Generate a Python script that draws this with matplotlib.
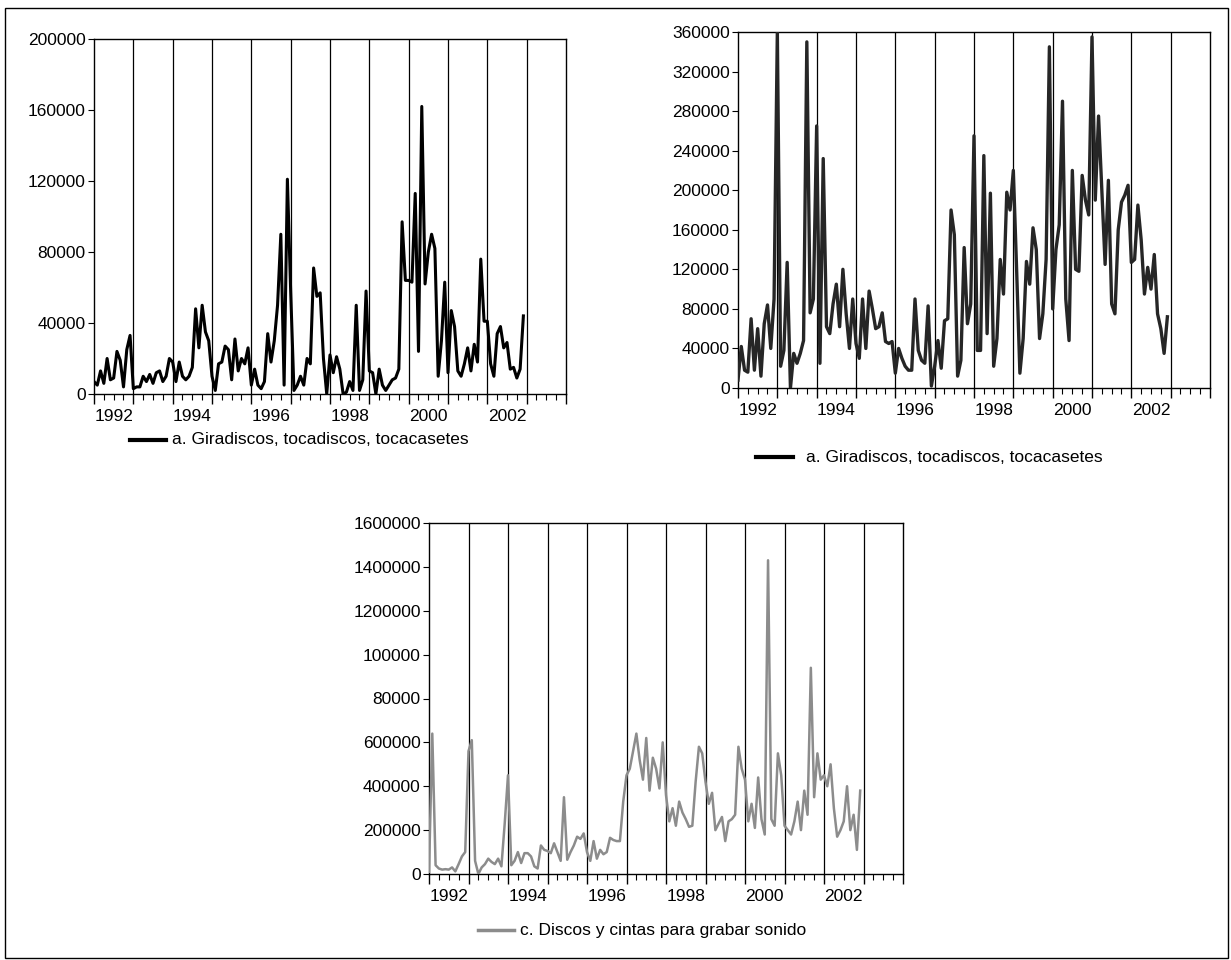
import numpy as np
import matplotlib
matplotlib.use("Agg")
import matplotlib.pyplot as plt
from matplotlib.patches import Rectangle
from matplotlib.ticker import FixedLocator, NullFormatter

plt.rcParams['font.family'] = ['Liberation Sans', 'DejaVu Sans']

# monthly data 1992:01 - 2002:12 (thousands of units)
giradiscos_1 = [
    7, 5, 13, 6, 20, 8, 9, 24, 19, 4, 25, 33,
    3, 4, 4, 10, 7, 11, 6, 12, 13, 7, 10, 20,
    18, 7, 18, 10, 8, 10, 15, 48, 26, 50, 35, 30,
    10, 2, 17, 18, 27, 25, 8, 31, 13, 20, 17, 26,
    5, 14, 5, 3, 7, 34, 18, 30, 50, 90, 5, 121,
    58, 2, 5, 10, 5, 20, 17, 71, 55, 57, 20, 0,
    22, 12, 21, 14, 0, 1, 7, 2, 50, 2, 8, 58,
    13, 12, 0, 14, 5, 2, 5, 8, 9, 14, 97, 64,
    64, 63, 113, 24, 162, 62, 80, 90, 82, 10, 30, 63,
    12, 47, 38, 13, 10, 17, 26, 13, 28, 18, 76, 41,
    41, 17, 10, 34, 38, 26, 29, 14, 15, 9, 14, 44,
]

giradiscos_2 = [
    8, 42, 18, 16, 70, 18, 60, 12, 65, 84, 40, 90,
    360, 22, 38, 127, 0, 35, 25, 35, 48, 350, 76, 90,
    265, 25, 232, 62, 55, 85, 105, 62, 120, 75, 40, 90,
    45, 30, 90, 40, 98, 80, 60, 62, 76, 47, 45, 47,
    15, 40, 30, 22, 18, 18, 90, 38, 28, 25, 83, 2,
    22, 48, 20, 68, 70, 180, 155, 12, 28, 142, 65, 85,
    255, 38, 38, 235, 55, 197, 22, 50, 130, 95, 198, 180,
    220, 120, 15, 50, 128, 105, 162, 140, 50, 75, 130, 345,
    80, 140, 165, 290, 90, 48, 220, 120, 118, 215, 190, 175,
    355, 190, 275, 200, 125, 210, 85, 75, 160, 188, 195, 205,
    127, 130, 185, 150, 95, 122, 100, 135, 75, 60, 35, 72,
]

discos = [
    10, 640, 40, 25, 20, 22, 20, 30, 12, 45, 80, 100,
    560, 610, 60, 0, 30, 45, 70, 55, 45, 70, 35, 230,
    450, 40, 60, 100, 50, 95, 95, 80, 35, 25, 130, 110,
    105, 95, 140, 100, 60, 350, 65, 100, 130, 170, 160, 185,
    100, 60, 150, 70, 110, 90, 100, 165, 155, 150, 150, 330,
    450, 480, 560, 640, 520, 430, 620, 380, 530, 480, 390, 600,
    360, 240, 300, 220, 330, 280, 250, 215, 220, 420, 580, 550,
    420, 320, 370, 200, 230, 260, 150, 240, 250, 270, 580, 480,
    430, 240, 320, 210, 440, 250, 180, 1430, 250, 220, 550, 450,
    220, 200, 180, 240, 330, 200, 380, 270, 940, 350, 550, 430,
    450, 400, 500, 300, 170, 200, 240, 400, 200, 270, 110, 380,
]

year_labels = [1992, 1994, 1996, 1998, 2000, 2002]
years = np.arange(1992, 2005)
t = 1992 + np.arange(len(discos)) / 12.0

ticks1 = [0, 40000, 80000, 120000, 160000, 200000]
ticks2 = [0, 40000, 80000, 120000, 160000, 200000, 240000, 280000, 320000, 360000]
ticks3 = [0, 200000, 400000, 600000, 800000, 1000000, 1200000, 1400000, 1600000]
labels3 = ["0", "200000", "400000", "600000", "80000", "100000",
           "1200000", "1400000", "1600000"]

leg_a = "a. Giradiscos, tocadiscos, tocacasetes"
leg_c = "c. Discos y cintas para grabar sonido"

W, H = 1231, 960
fig = plt.figure(figsize=(W / 100, H / 100), dpi=100)
fs = 12.5


def make_ax(x0, y0, x1, y1):
    return fig.add_axes([x0 / W, 1 - y1 / H, (x1 - x0) / W, (y1 - y0) / H])


def style(ax, ymax, yticks, ylabels=None):
    ax.set_xlim(1992, 2004)
    ax.set_ylim(0, ymax)
    ax.set_yticks(yticks)
    if ylabels is not None:
        ax.set_yticklabels(ylabels)
    ax.tick_params(axis='y', direction='out', length=4, width=0.8,
                   labelsize=fs, pad=2)
    ax.xaxis.set_major_locator(FixedLocator(years))
    ax.xaxis.set_major_formatter(NullFormatter())
    ax.xaxis.set_minor_locator(FixedLocator(np.arange(1992, 2004.01, 0.25)))
    ax.tick_params(axis='x', which='major', direction='out', length=7, width=1)
    ax.tick_params(axis='x', which='minor', direction='out', length=4, width=0.8)
    for y in year_labels:
        ax.text(y + 0.5, -0.042, str(y), transform=ax.get_xaxis_transform(),
                ha='center', va='top', fontsize=fs)
    for y in years[1:-1]:
        ax.axvline(y, color='black', lw=0.9, zorder=1)
    for s in ax.spines.values():
        s.set_linewidth(1.0)


def legend(x0, x1, xt, y, text, color, lw):
    fig.add_artist(plt.Line2D([x0 / W, x1 / W], [1 - y / H, 1 - y / H],
                              color=color, lw=lw))
    fig.text(xt / W, 1 - y / H, text, fontsize=fs, va='center', ha='left')


ax1 = make_ax(94, 39, 566, 394)
ax1.plot(t, np.array(giradiscos_1) * 1000, color='black', lw=2.2, zorder=3)
style(ax1, 200000, ticks1)
legend(130, 166, 172, 440, leg_a, 'black', 3)

ax2 = make_ax(738, 32, 1210, 388)
ax2.plot(t, np.array(giradiscos_2) * 1000, color='#262626', lw=2.4, zorder=3)
style(ax2, 360000, ticks2)
legend(756, 793, 806, 457, leg_a, 'black', 3)

ax3 = make_ax(429, 523, 903, 874)
ax3.plot(t, np.array(discos) * 1000, color='#8c8c8c', lw=1.8, zorder=3)
style(ax3, 1600000, ticks3, labels3)
legend(478, 514, 520, 930, leg_c, '#8c8c8c', 2.5)

fig.add_artist(Rectangle((5 / W, 2 / H), 1223 / W, 950 / H, fill=False,
                         edgecolor='black', lw=1.0, transform=fig.transFigure))

fig.savefig("out.png", dpi=100)
